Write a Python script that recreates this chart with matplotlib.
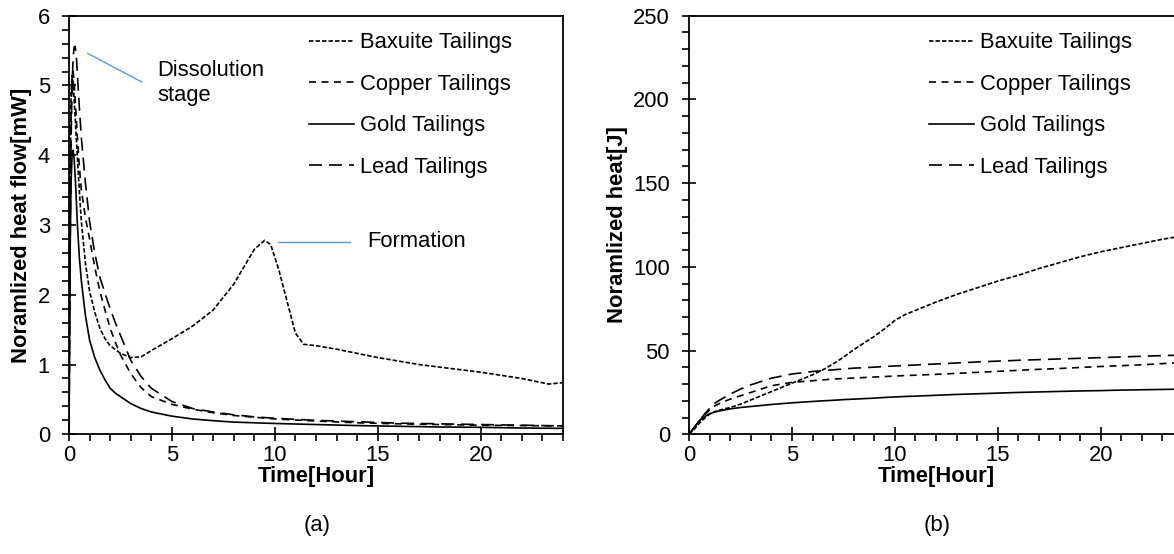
import numpy as np
import matplotlib
matplotlib.use("Agg")
import matplotlib.pyplot as plt
from matplotlib.ticker import MultipleLocator

plt.rcParams['font.family'] = ['Liberation Sans', 'DejaVu Sans']

# ---------------- data: (a) heat flow [mW] ----------------
t_flow = [0, 0.05, 0.1, 0.15, 0.2, 0.25, 0.3, 0.35, 0.4, 0.5, 0.6, 0.8, 1.0, 1.25, 1.5,
          1.75, 2.0, 2.25, 2.5, 3.0, 3.5, 4, 5, 6, 7, 8, 9, 10, 12, 14, 16, 18, 20, 22, 24]
gold_flow = [0, 2.5, 3.6, 4.0, 4.07, 3.95, 3.7, 3.4, 3.05, 2.55, 2.2, 1.7, 1.35, 1.1, 0.92,
             0.78, 0.66, 0.59, 0.54, 0.44, 0.37, 0.32, 0.26, 0.22, 0.195, 0.175, 0.165, 0.155,
             0.14, 0.125, 0.115, 0.105, 0.1, 0.09, 0.085]
copper_flow = [0, 3.0, 4.6, 5.1, 5.2, 5.05, 4.8, 4.55, 4.3, 3.85, 3.5, 3.1, 2.8, 2.4, 2.05,
               1.78, 1.52, 1.32, 1.14, 0.87, 0.67, 0.54, 0.43, 0.36, 0.31, 0.27, 0.245, 0.22,
               0.19, 0.165, 0.15, 0.14, 0.13, 0.125, 0.12]
lead_flow = [0, 2.5, 4.2, 5.0, 5.4, 5.55, 5.56, 5.45, 5.2, 4.7, 4.25, 3.6, 3.05, 2.6, 2.25,
             2.02, 1.8, 1.6, 1.42, 1.06, 0.83, 0.66, 0.47, 0.37, 0.32, 0.28, 0.25, 0.23,
             0.2, 0.18, 0.16, 0.15, 0.14, 0.13, 0.12]
t_bax = [0, 0.05, 0.1, 0.15, 0.2, 0.3, 0.4, 0.5, 0.6, 0.8, 1.0, 1.25, 1.5, 1.75, 2.0, 2.5,
         3.0, 3.5, 4, 5, 6, 7, 8, 8.5, 9, 9.5, 9.8, 10.2, 10.6, 11, 11.4, 12, 13, 15, 17,
         20, 22, 23.3, 24]
bax_flow = [0, 3.5, 4.9, 5.15, 5.05, 4.55, 4.0, 3.5, 3.05, 2.45, 2.05, 1.75, 1.52, 1.37, 1.27,
            1.16, 1.1, 1.11, 1.2, 1.37, 1.55, 1.78, 2.15, 2.4, 2.65, 2.78, 2.72, 2.35, 1.9,
            1.45, 1.29, 1.27, 1.22, 1.1, 1.0, 0.89, 0.8, 0.72, 0.74]

# ---------------- data: (b) cumulative heat [J] ----------------
t_heat = [0, 0.25, 0.5, 0.75, 1, 1.25, 1.5, 2, 2.5, 3, 4, 5, 6, 6.5, 7, 7.5, 8, 8.5, 9,
          9.5, 10, 10.5, 11, 12, 13, 14, 15, 16, 17, 18, 19, 20, 21, 22, 23, 24]
bax_heat = [0, 3, 6.5, 9.5, 12, 13.5, 14.5, 16, 18, 20.5, 25.5, 30.5, 35.5, 38.5, 42, 46,
            50.5, 54.5, 58.5, 63, 68, 71.5, 74, 79, 83.5, 87.5, 91.5, 95, 99, 102.5, 106,
            109, 111.5, 114, 116.5, 118.5]
copper_heat = [0, 4, 8, 11.5, 14.5, 17, 18.5, 21, 23, 25, 29, 31, 32, 32.5, 33, 33.3, 33.6,
               33.9, 34.2, 34.5, 34.8, 35.1, 35.3, 35.8, 36.4, 37, 37.6, 38.2, 38.8, 39.3,
               39.9, 40.5, 41, 41.5, 42.2, 43]
gold_heat = [0, 4, 8, 10.5, 12.3, 13.3, 14, 15.2, 16, 16.6, 17.8, 18.8, 19.6, 20, 20.3,
             20.7, 21, 21.3, 21.6, 22, 22.3, 22.6, 22.8, 23.3, 23.8, 24.2, 24.6, 25, 25.3,
             25.6, 25.9, 26.1, 26.4, 26.6, 26.8, 27]
lead_heat = [0, 4, 8, 12, 15.5, 18.5, 20.5, 24, 27, 29.5, 33.5, 36, 37.5, 38, 38.5, 39,
             39.5, 39.8, 40.1, 40.5, 40.8, 41.1, 41.4, 42, 42.6, 43.2, 43.7, 44.2, 44.6,
             45, 45.4, 45.8, 46.2, 46.6, 47, 47.3]

labels = ["Baxuite Tailings", "Copper Tailings", "Gold Tailings", "Lead Tailings"]
styles = [(0, (2.7, 1.2)), (0, (4.2, 3.3)), "-", (0, (7.8, 4.2))]

FS = 15.8
LW = 1.2

fig = plt.figure(figsize=(11.74, 5.54), dpi=100)
ax1 = fig.add_axes([69 / 1174, 1 - 434.3 / 554, 494 / 1174, 418.6 / 554])
ax2 = fig.add_axes([689 / 1174, 1 - 434.3 / 554, 494 / 1174, 418.6 / 554])

ax1.plot(t_bax, bax_flow, color="black", lw=LW, ls=styles[0], label=labels[0])
ax1.plot(t_flow, copper_flow, color="black", lw=LW, ls=styles[1], label=labels[1])
ax1.plot(t_flow, gold_flow, color="black", lw=LW, ls=styles[2], label=labels[2])
ax1.plot(t_flow, lead_flow, color="black", lw=LW, ls=styles[3], label=labels[3])

ax2.plot(t_heat, bax_heat, color="black", lw=LW, ls=styles[0], label=labels[0])
ax2.plot(t_heat, copper_heat, color="black", lw=LW, ls=styles[1], label=labels[1])
ax2.plot(t_heat, gold_heat, color="black", lw=LW, ls=styles[2], label=labels[2])
ax2.plot(t_heat, lead_heat, color="black", lw=LW, ls=styles[3], label=labels[3])

ax1.set_xlim(0, 24)
ax1.set_ylim(0, 6)
ax1.xaxis.set_major_locator(MultipleLocator(5))
ax1.xaxis.set_minor_locator(MultipleLocator(1))
ax1.yaxis.set_major_locator(MultipleLocator(1))
ax1.yaxis.set_minor_locator(MultipleLocator(0.2))

ax2.set_xlim(0, 24)
ax2.set_ylim(0, 250)
ax2.xaxis.set_major_locator(MultipleLocator(5))
ax2.xaxis.set_minor_locator(MultipleLocator(1))
ax2.yaxis.set_major_locator(MultipleLocator(50))
ax2.yaxis.set_minor_locator(MultipleLocator(10))

for ax in (ax1, ax2):
    for sp in ax.spines.values():
        sp.set_linewidth(1.3)
    ax.tick_params(which="major", direction="inout", length=9.5, width=1.2,
                   labelsize=FS)
    ax.tick_params(axis="x", which="major", pad=3)
    ax.tick_params(axis="y", which="major", pad=9)
    ax.tick_params(which="minor", direction="out", length=5, width=1.2)
    ax.set_xlabel("Time[Hour]", fontsize=FS, fontweight="bold", labelpad=0)
    ax.legend(loc="upper left", bbox_to_anchor=(0.486, 0.96), frameon=False,
              fontsize=FS, handlelength=2.05, handletextpad=0.27, labelspacing=0.93,
              borderaxespad=0, borderpad=0)

ax1.set_ylabel("Noramlized heat flow[mW]", fontsize=FS, fontweight="bold", labelpad=4)
ax2.set_ylabel("Noramlized heat[J]", fontsize=FS, fontweight="bold", labelpad=4)

# annotations
ax1.plot([0.91, 3.53], [5.46, 5.05], color="#5B9BD5", lw=1)
ax1.text(4.3, 5.03, "Dissolution\nstage", fontsize=FS, va="center", ha="left",
         linespacing=1.25)
ax1.plot([10.16, 13.65], [2.76, 2.76], color="#5B9BD5", lw=1)
ax1.text(14.5, 2.76, "Formation", fontsize=FS, va="center", ha="left")

fig.text(317 / 1174, 1 - 525 / 554, "(a)", fontsize=FS, ha="center", va="center")
fig.text(937 / 1174, 1 - 525 / 554, "(b)", fontsize=FS, ha="center", va="center")

fig.savefig("out.png", dpi=100)
